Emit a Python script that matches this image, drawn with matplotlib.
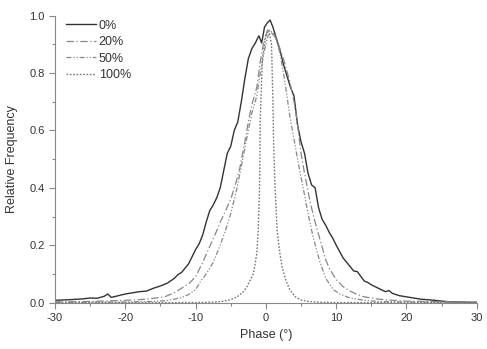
import matplotlib
matplotlib.use('Agg')
import matplotlib.pyplot as plt
from matplotlib.ticker import MultipleLocator

plt.rcParams['font.family'] = ['Liberation Sans', 'DejaVu Sans']
plt.rcParams['font.size'] = 8

# 0 %
x0 = [-30, -28, -26, -25, -24, -23, -22.5, -22, -21, -20, -19, -18, -17, -16, -15,
      -14, -13, -12.5, -12, -11, -10, -9.5, -9, -8.5, -8, -7.5, -7, -6.5, -6, -5.5,
      -5, -4.5, -4, -3.5, -3, -2.5, -2, -1.5, -1, -0.6, -0.2, 0.2, 0.6, 1, 1.5, 2,
      2.5, 3, 3.5, 4, 4.5, 5, 5.5, 6, 6.5, 7, 7.5, 8, 8.5, 9, 9.5, 10, 11, 12, 12.5,
      13, 14, 14.5, 15, 16, 17, 17.5, 18, 19, 20, 21, 22, 23, 24, 25, 26, 27, 28,
      29, 30]
y0 = [0.008, 0.010, 0.013, 0.016, 0.015, 0.022, 0.030, 0.018, 0.024, 0.030, 0.034,
      0.038, 0.040, 0.050, 0.058, 0.068, 0.085, 0.098, 0.105, 0.135, 0.185, 0.205,
      0.235, 0.280, 0.320, 0.340, 0.365, 0.400, 0.460, 0.520, 0.545, 0.600, 0.630,
      0.700, 0.780, 0.850, 0.885, 0.905, 0.930, 0.905, 0.960, 0.975, 0.985, 0.960,
      0.920, 0.880, 0.830, 0.790, 0.750, 0.720, 0.620, 0.560, 0.520, 0.450, 0.410,
      0.400, 0.330, 0.290, 0.270, 0.245, 0.225, 0.200, 0.155, 0.125, 0.110, 0.108,
      0.075, 0.070, 0.062, 0.050, 0.038, 0.042, 0.032, 0.024, 0.020, 0.016, 0.012,
      0.010, 0.008, 0.005, 0.003, 0.002, 0.002, 0.001, 0.001]

# 20 %
x20 = [-30, -25, -20, -18, -16, -14.4, -13, -12, -11, -10, -9.4, -9, -8, -7, -6.5,
       -5, -4, -3.7, -3, -2.5, -2, -1.3, -0.8, -0.3, 0.3, 0.8, 1.5, 2.5, 3.4, 4, 4.4,
       5, 5.5, 6.3, 7, 7.7, 8.5, 9, 10, 11, 12, 13, 14, 16, 18, 20, 25, 30]
y20 = [0.002, 0.004, 0.008, 0.010, 0.015, 0.020, 0.035, 0.050, 0.065, 0.090, 0.120,
       0.140, 0.195, 0.250, 0.280, 0.360, 0.440, 0.470, 0.560, 0.630, 0.690, 0.750,
       0.840, 0.910, 0.955, 0.940, 0.920, 0.850, 0.770, 0.700, 0.640, 0.520, 0.450,
       0.350, 0.280, 0.220, 0.150, 0.120, 0.080, 0.055, 0.040, 0.028, 0.020, 0.012,
       0.008, 0.005, 0.003, 0.001]

# 50 %
x50 = [-30, -20, -16, -14, -13, -12, -11, -10, -9.4, -8.5, -7.5, -6.5, -5.5, -5,
       -4.1, -3.3, -2.5, -2, -1.3, -0.8, -0.2, 0.3, 0.8, 1.3, 2, 2.5, 3, 3.4, 4, 4.5,
       5.3, 6, 6.7, 7.7, 8.5, 9.6, 10.5, 12, 14, 16, 20, 30]
y50 = [0.001, 0.002, 0.004, 0.007, 0.012, 0.018, 0.028, 0.045, 0.070, 0.100, 0.140,
       0.200, 0.270, 0.310, 0.400, 0.500, 0.600, 0.660, 0.720, 0.800, 0.880, 0.930,
       0.945, 0.930, 0.870, 0.800, 0.720, 0.650, 0.570, 0.500, 0.400, 0.310, 0.230,
       0.140, 0.085, 0.045, 0.030, 0.016, 0.008, 0.004, 0.002, 0.001]

# 100 %
x100 = [-30, -10, -7, -6, -5, -4.1, -3.3, -2.7, -2.2, -1.8, -1.5, -1.3, -1.1, -0.9,
        -0.8, -0.5, 0, 0.4, 0.8, 1.0, 1.1, 1.3, 1.6, 2, 2.3, 2.8, 3.4, 4.2, 4.9, 6, 8,
        10, 30]
y100 = [0.0, 0.0, 0.002, 0.005, 0.010, 0.020, 0.035, 0.055, 0.080, 0.100, 0.140,
        0.170, 0.250, 0.400, 0.640, 0.850, 0.930, 0.950, 0.900, 0.700, 0.550, 0.400,
        0.250, 0.170, 0.125, 0.080, 0.045, 0.020, 0.010, 0.004, 0.001, 0.0, 0.0]

fig = plt.figure(figsize=(4.87, 3.49), dpi=100)
ax = fig.add_axes([0.113, 0.133, 0.866, 0.822])

ax.plot(x0, y0, color='#333333', lw=1.0, label='0%')
ax.plot(x20, y20, color='#888888', lw=0.9, ls=(0, (6, 2, 1, 2)), label='20%')
ax.plot(x50, y50, color='#888888', lw=0.9, ls=(0, (4, 1.5, 1, 1.5, 1, 1.5)), label='50%')
ax.plot(x100, y100, color='#777777', lw=1.0, ls=(0, (1.2, 1.2)), label='100%')

ax.set_xlim(-30, 30)
ax.set_ylim(0, 1.0)
ax.xaxis.set_major_locator(MultipleLocator(10))
ax.xaxis.set_minor_locator(MultipleLocator(5))
ax.yaxis.set_major_locator(MultipleLocator(0.2))
ax.yaxis.set_minor_locator(MultipleLocator(0.1))
ax.xaxis.set_major_formatter(plt.FuncFormatter(lambda v, p: '%d' % v))
ax.yaxis.set_major_formatter(plt.FuncFormatter(lambda v, p: '%.1f' % v))

for s in ['top', 'right']:
    ax.spines[s].set_visible(False)
for s in ['left', 'bottom']:
    ax.spines[s].set_color('#888888')
    ax.spines[s].set_linewidth(0.8)
ax.tick_params(which='major', direction='out', length=4, width=0.8, color='#888888',
               labelcolor='#333333', labelsize=8)
ax.tick_params(which='minor', direction='out', length=2.5, width=0.8, color='#888888')

ax.set_xlabel('Phase (°)', fontsize=9, color='#333333', labelpad=4)
ax.set_ylabel('Relative Frequency', fontsize=9, color='#333333', labelpad=8)

ax.legend(loc='upper left', bbox_to_anchor=(0.0, 1.025), frameon=False, fontsize=9,
          handlelength=2.4, handletextpad=0.2, labelspacing=0.35, labelcolor='#333333')

fig.savefig('out.png', dpi=100)
